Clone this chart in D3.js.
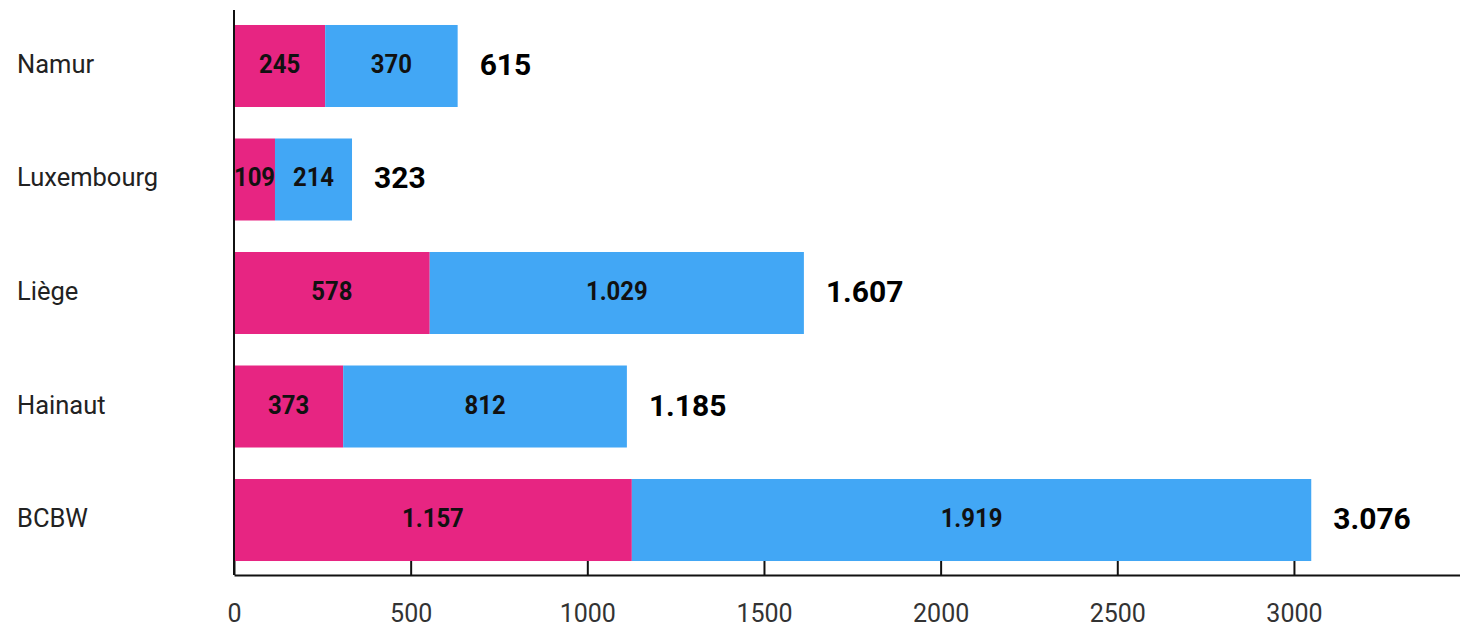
<!DOCTYPE html>
<html>
<head>
<meta charset="utf-8">
<script src="https://cdn.jsdelivr.net/npm/d3@7"></script>
<style>
  body { margin: 0; background: #fff; }
  text { font-family: Roboto, "Noto Sans", sans-serif; }
</style>
</head>
<body>
<div id="chart"></div>
<script>
// categories, top to bottom
var categories = ["Namur", "Luxembourg", "Liège", "Hainaut", "BCBW"];

// bar lengths as drawn in the picture
var pinkBar = [258, 116, 554, 309, 1126];
var blueBar = [375, 218, 1059, 803, 1923];

// printed labels
var pinkLabels = ["245", "109", "578", "373", "1.157"];
var blueLabels = ["370", "214", "1.029", "812", "1.919"];
var totalLabels = ["615", "323", "1.607", "1.185", "3.076"];

var tickValues = [0, 500, 1000, 1500, 2000, 2500, 3000];

var width = 1460, height = 628;

var svg = d3.select("#chart")
  .append("svg")
    .attr("width", width)
    .attr("height", height);

var x = d3.scaleLinear().domain([0, 3470]).range([234, 1460]);

var y = d3.scaleBand()
  .domain(categories)
  .range([9.25, 576.75])
  .paddingInner(0.2775)
  .paddingOuter(0.1387);

var rows = categories.map(function (c, i) {
  return { cat: c, pink: pinkBar[i], blue: blueBar[i],
           pl: pinkLabels[i], bl: blueLabels[i], tl: totalLabels[i] };
});

// bars
var g = svg.append("g");
g.selectAll("rect.pink")
  .data(rows).enter().append("rect")
    .attr("class", "pink")
    .attr("x", x(0))
    .attr("y", function (d) { return y(d.cat); })
    .attr("width", function (d) { return x(d.pink) - x(0); })
    .attr("height", y.bandwidth())
    .attr("fill", "#e72582");

g.selectAll("rect.blue")
  .data(rows).enter().append("rect")
    .attr("class", "blue")
    .attr("x", function (d) { return x(d.pink); })
    .attr("y", function (d) { return y(d.cat); })
    .attr("width", function (d) { return x(d.pink + d.blue) - x(d.pink); })
    .attr("height", y.bandwidth())
    .attr("fill", "#42a7f5");

// segment labels (squeezed a bit to look condensed)
function segLabel(cls, cx, txt) {
  g.selectAll("text." + cls)
    .data(rows).enter().append("text")
      .attr("class", cls)
      .attr("transform", function (d) {
        return "translate(" + cx(d) + "," + (y(d.cat) + y.bandwidth() / 2 + 7) + ") scale(0.92,1)";
      })
      .attr("text-anchor", "middle")
      .attr("font-size", 26)
      .attr("font-weight", 700)
      .attr("fill", "#111")
      .text(txt);
}
segLabel("pl", function (d) { return (x(0) + x(d.pink)) / 2; }, function (d) { return d.pl; });
segLabel("bl", function (d) { return (x(d.pink) + x(d.pink + d.blue)) / 2; }, function (d) { return d.bl; });

// totals
g.selectAll("text.tl")
  .data(rows).enter().append("text")
    .attr("class", "tl")
    .attr("x", function (d) { return x(d.pink + d.blue) + 22; })
    .attr("y", function (d) { return y(d.cat) + y.bandwidth() / 2 + 9; })
    .attr("font-size", 30)
    .attr("font-weight", 700)
    .attr("fill", "#000")
    .text(function (d) { return d.tl; });

// category labels
svg.append("g").selectAll("text")
  .data(categories).enter().append("text")
    .attr("x", 17)
    .attr("y", function (d) { return y(d) + y.bandwidth() / 2 + 7; })
    .attr("font-size", 25.5)
    .attr("fill", "#222")
    .text(function (d) { return d; });

// vertical axis line
svg.append("line")
  .attr("x1", x(0)).attr("x2", x(0))
  .attr("y1", 10).attr("y2", 575)
  .attr("stroke", "#111").attr("stroke-width", 2);

// bottom axis
var axis = svg.append("g")
  .attr("transform", "translate(0,575)")
  .call(d3.axisBottom(x).tickValues(tickValues).tickFormat(d3.format("d"))
    .tickSize(-14).tickPadding(29).tickSizeOuter(0));
axis.select(".domain").attr("stroke", "#111").attr("stroke-width", 2);
axis.selectAll(".tick line").attr("stroke", "#111").attr("stroke-width", 2);
axis.selectAll(".tick text")
  .attr("font-size", 25)
  .attr("font-family", "Roboto, sans-serif")
  .attr("fill", "#333");
</script>
</body>
</html>
